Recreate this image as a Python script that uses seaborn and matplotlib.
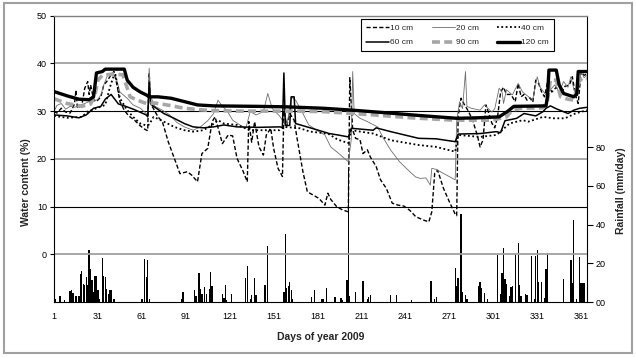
import matplotlib
matplotlib.use('Agg')
import matplotlib.pyplot as plt
import seaborn as sns
import pandas as pd
from matplotlib.patches import Rectangle

sns.set_theme(style='white')
plt.rcParams['font.family'] = ['Liberation Sans', 'DejaVu Sans']

# water content (%) at key days
d10_day = [1, 3, 6, 9, 12, 15, 16, 17, 20, 22, 24, 25, 26, 28, 30, 33, 35, 37, 40, 42, 44, 46, 49, 52, 56, 60, 63, 65,
           66, 67, 69, 72, 75, 79, 84, 87, 92, 95, 99, 102, 106, 109, 111, 116, 120, 123, 126, 130, 133, 134, 136, 138,
           141, 144, 146, 149, 151, 154, 157, 158, 160, 162, 165, 167, 169, 171, 174, 178, 182, 186, 188, 190, 194, 198,
           202, 203, 205, 207, 210, 212, 215, 217, 221, 224, 228, 232, 236, 240, 244, 248, 253, 257, 259, 261, 263, 267,
           271, 275, 276, 277, 279, 281, 284, 287, 290, 292, 294, 296, 298, 300, 302, 304, 306, 308, 310, 313, 316, 318,
           320, 322, 324, 326, 328, 330, 332, 334, 336, 338, 341, 344, 347, 350, 353, 355, 357, 359, 361, 363, 365]
d10_val = [29.9, 29.6, 30.6, 29.8, 29.6, 31.5, 34.4, 30.6, 31.2, 34.8, 36.2, 33.5, 35.5, 32.5, 32.0, 33.0, 35.5, 36.2,
           37.6, 38.3, 35.5, 32.0, 30.2, 29.0, 28.1, 26.9, 26.2, 25.9,
           38.0, 31.5, 30.5, 28.8, 27.8, 23.6, 19.4, 16.9, 17.3, 16.6, 15.2, 21.1, 22.2, 27.8, 28.8, 23.2, 25.0, 24.8,
           20.1, 17.5, 15.2, 27.8, 23.5, 27.8,
           22.5, 20.8, 25.0, 26.4, 22.2, 18.0, 16.3, 30.0, 27.0, 29.5, 28.1, 24.3, 20.8, 17.3, 13.1, 12.4, 11.7, 10.3,
           12.8, 11.5, 10.0, 9.3,
           8.9, 37.0, 26.0, 24.3, 24.0, 21.1, 21.9, 20.4, 18.4, 15.6, 13.8, 10.7, 10.3, 10.1, 9.2, 7.9, 7.2, 6.8, 8.9,
           17.0, 17.6, 13.8,
           11.0, 8.4, 8.1, 29.0, 32.7, 31.5, 30.0, 28.0, 25.0, 22.5, 24.0, 31.3, 29.5, 27.5, 26.5, 29.0, 34.0, 35.0,
           33.5, 33.5, 32.0, 35.8,
           33.0, 33.5, 32.3, 32.8, 31.9, 36.5, 35.8, 34.0, 33.0, 36.0, 34.0, 35.0, 33.5, 35.2, 35.5, 37.2, 33.5, 31.6,
           38.3, 37.5, 37.8]

d20_day = [1, 3, 6, 9, 12, 15, 19, 22, 25, 28, 31, 33, 35, 38, 43, 46, 51, 55, 60, 64, 65, 66, 67, 70, 75, 80, 85, 90,
           96, 101, 106, 110, 113, 116, 119, 123, 128, 132, 135, 139, 144, 147, 150, 155, 160, 163, 166, 171, 175, 182,
           186, 190, 194, 202, 204, 205, 206, 210, 215, 222, 226, 231, 237, 244, 248, 251, 255, 258, 259, 262, 269, 275,
           276, 278, 280, 282, 283, 286, 292, 295, 300, 302, 305, 307, 308, 310, 314, 318, 321, 326, 328, 331, 333, 337,
           340, 343, 346, 349, 352, 354, 357, 359, 361, 363, 365]
d20_val = [29.9, 31.2, 31.6, 30.4, 31.0, 30.8, 31.3, 31.6, 32.0, 32.0, 32.5, 33.4, 35.5, 37.9, 37.5, 34.0, 32.7, 31.3,
           30.6, 29.5, 29.0, 39.0, 33.0, 31.0, 30.2, 29.2, 27.6, 26.7,
           26.0, 26.7, 28.0, 29.5, 32.3, 31.0, 30.2, 28.1, 27.1, 26.4, 29.9, 29.2, 29.9, 33.7, 30.6, 29.0, 26.7, 33.0,
           32.3, 29.5, 27.1, 25.7,
           25.0, 22.5, 21.5, 19.4, 24.0, 38.3, 29.5, 28.5, 27.8, 26.7, 24.3, 21.8, 19.4, 17.3, 16.2, 15.9, 16.0, 14.5,
           18.0, 17.8, 16.6, 15.6,
           28.0, 32.0, 30.5, 38.3, 31.0, 30.6, 30.2, 31.3, 29.8, 30.5, 34.8, 34.0, 31.6, 34.5, 33.4, 35.8, 34.0, 32.8,
           32.5, 37.2, 35.0, 33.4,
           34.5, 35.5, 34.0, 36.2, 35.0, 37.2, 33.4, 34.0, 38.3, 37.0, 37.5]

d40_day = [1, 10, 20, 24, 30, 36, 39, 42, 43, 46, 51, 55, 60, 64, 66, 69, 76, 83, 90, 96, 103, 109, 113, 117, 126, 135,
           146, 155, 158, 169, 176, 188, 195, 202, 204, 219, 231, 250, 262, 275, 277, 292, 303, 306, 312, 321, 325, 335,
           342, 350, 357, 365]
d40_val = [29.0, 28.6, 28.8, 29.9, 30.6, 31.3, 34.8, 37.6, 37.6, 32.7, 30.2, 28.8, 27.4, 27.0, 27.2, 28.8, 27.8, 26.7,
           26.0, 25.7, 26.0, 27.1, 28.1, 27.4, 27.1, 26.0,
           26.0, 26.0, 26.7, 26.4, 25.7, 25.3, 24.0, 23.3, 26.0, 25.3, 23.9, 22.9, 22.5, 21.5, 25.0, 24.6, 25.0, 25.7,
           27.4, 28.1, 27.8, 28.8,
           28.5, 28.5, 29.5, 30.2]

d60_day = [1, 10, 18, 23, 28, 33, 36, 40, 45, 50, 56, 64, 65, 66, 67, 69, 76, 83, 90, 96, 103, 110, 117, 126, 140, 155,
           157, 158, 159, 162, 163, 165, 166, 176, 189, 195, 202, 204, 219, 221, 231, 250, 262, 275, 277, 292, 303, 306,
           309, 314, 317, 322, 330, 335, 337, 340, 344, 348, 352, 356, 360, 365]
d60_val = [29.2, 29.0, 28.6, 29.2, 30.6, 31.0, 32.5, 33.5, 31.5, 31.0, 30.3, 29.2, 28.8, 36.0, 31.5, 31.0, 29.5, 28.5,
           27.4, 26.7, 26.5, 26.7, 27.1, 26.7, 26.6, 26.7,
           26.6, 38.0, 27.0, 27.0, 33.0, 33.0, 27.4, 26.5, 25.3, 25.0, 24.6, 26.4, 26.0, 26.5, 25.7, 24.3, 24.2, 23.6,
           25.2, 25.3, 25.7, 25.5,
           28.0, 28.3, 28.5, 29.5, 29.0, 29.9, 30.6, 31.1, 30.5, 30.0, 29.5, 30.2, 30.6, 30.8]

d90_day = [1, 10, 20, 26, 29, 31, 34, 42, 48, 53, 58, 64, 70, 80, 90, 100, 110, 130, 150, 170, 185, 200, 220, 245, 275,
           300, 310, 314, 320, 335, 338, 340, 344, 347, 352, 356, 359, 362, 365]
d90_val = [32.6, 31.6, 31.0, 31.5, 33.5, 36.5, 37.5, 37.8, 37.6, 33.0, 32.3, 31.6, 31.7, 31.2, 30.6, 30.3, 30.1, 30.0,
           30.0, 30.0, 29.9, 29.6, 29.2, 28.6, 28.1,
           28.1, 28.8, 30.2, 30.6, 30.7, 32.3, 36.5, 36.5, 33.0, 32.5, 32.3, 36.0, 37.0, 36.8]

d120_day = [1, 10, 18, 25, 28, 30, 34, 36, 49, 51, 55, 60, 64, 66, 72, 81, 90, 99, 110, 140, 160, 185, 205, 230, 250,
            276, 290, 305, 311, 315, 337, 338, 339, 344, 346, 349, 356, 358, 359, 365]
d120_val = [34.1, 33.2, 32.5, 32.4, 33.0, 38.0, 38.3, 38.8, 38.8, 36.5, 35.0, 34.0, 33.4, 33.0, 33.0, 32.7, 32.0, 31.3,
            31.1, 31.0, 30.9, 30.6, 30.2, 29.6, 29.1,
            28.5, 28.6, 28.8, 30.0, 31.0, 31.1, 33.0, 38.6, 38.6, 35.5, 33.7, 33.0, 33.5, 38.3, 38.3]

# daily rainfall (mm/day)
rain_day = [1, 2, 5, 8, 12, 13, 14, 16, 18, 19, 20, 21, 22, 23, 24, 25, 26, 27, 28, 29, 30, 31, 32, 34, 35, 36, 37, 38,
            39, 40, 42, 61, 63, 64, 65, 66, 88, 89, 97, 98, 100, 101, 102, 104, 105, 107, 108, 109, 116, 117, 118, 119,
            122, 132, 133, 135, 136, 138, 139, 145, 147, 158, 159, 160, 161, 162, 163, 164, 177, 179, 184, 185, 187, 193,
            197, 198, 201, 202, 203, 207, 212, 215, 216, 217, 231, 235, 245, 258, 259, 261, 262, 275, 276, 277, 279, 280,
            282, 283, 291, 292, 293, 295, 297, 304, 306, 307, 308, 309, 310, 312, 313, 314, 316, 318, 319, 320, 323, 324,
            327, 329, 330, 331, 332, 334, 336, 337, 338, 349, 354, 355, 356, 358, 360, 361, 362, 363]
rain_mm = [8.6, 1.7, 3.0, 1.2, 5.7, 6.0, 4.8, 3.0, 3.0, 14.6, 15.8, 9.5, 8.6, 12.9, 8.6, 27.0, 17.2, 11.2, 5.2, 13.3,
           13.3, 6.4, 1.7, 22.9, 13.3, 12.9, 6.9, 4.3,
           6.4, 6.4, 1.7, 1.7, 22.4, 12.9, 21.9, 1.7, 1.7, 5.2, 6.4, 3.0, 15.0, 6.9, 4.3, 7.8, 4.3, 6.9, 15.3, 8.1, 4.3,
           2.2, 8.6, 1.2,
           4.0, 12.4, 18.4, 1.7, 3.4, 12.6, 3.4, 8.6, 28.8, 5.0, 35.3, 7.2, 8.1, 10.3, 6.0, 1.7, 2.6, 6.0, 1.4, 1.4,
           7.1, 2.6,
           1.9, 1.2, 11.2, 68.0, 3.1, 5.3, 10.9, 1.4, 2.6, 3.4, 3.4, 3.4, 0.8, 10.9, 10.9, 1.4, 2.6, 17.7, 8.3, 12.2,
           45.3, 5.3,
           3.6, 1.7, 8.3, 10.5, 7.1, 4.8, 1.4, 24.3, 4.0, 15.2, 27.7, 11.7, 9.1, 3.1, 7.8, 8.3, 24.6, 30.7, 8.8, 3.1,
           4.0, 3.4,
           23.8, 1.4, 23.8, 26.7, 10.3, 10.3, 2.2, 16.9, 25.3, 12.1, 21.5, 9.6, 42.2, 1.4, 23.3, 10.0, 10.0, 10.0]

depths = ['10 cm', '20 cm', '40 cm', '60 cm', '90 cm', '120 cm']
days = [d10_day, d20_day, d40_day, d60_day, d90_day, d120_day]
vals = [d10_val, d20_val, d40_val, d60_val, d90_val, d120_val]
styles = {
    '10 cm': dict(color='black', lw=1.0, dashes=(3, 1.6)),
    '20 cm': dict(color='#6e6e6e', lw=0.6, dashes=None),
    '40 cm': dict(color='black', lw=1.3, dashes=(1, 1.4)),
    '60 cm': dict(color='black', lw=1.1, dashes=None),
    '90 cm': dict(color='#a6a6a6', lw=2.6, dashes=(2.2, 1.2)),
    '120 cm': dict(color='black', lw=2.4, dashes=None),
}

fig = plt.figure(figsize=(6.36, 3.58), dpi=100)
fig.add_artist(Rectangle((4 / 636, 5 / 358), 628 / 636, 350 / 358, transform=fig.transFigure,
                         fill=False, ec='#a0a0a0', lw=1.5))
ax = fig.add_axes([54 / 636, 56 / 358, 533 / 636, 286.3 / 358])
ax2 = ax.twinx()

# rainfall on the right axis
ax2.bar(rain_day, rain_mm, width=0.9, color='black', linewidth=0)
ax2.set_ylim(0, 148)
ax2.set_yticks([0, 20, 40, 60, 80])
ax2.set_yticklabels(['00', '20', '40', '60', '80'])
ax2.tick_params(axis='y', direction='out', length=4, width=0.8, labelsize=6.5, pad=2, colors='black')
ax2.set_ylabel('Rainfall (mm/day)', fontsize=7.5, fontweight='bold')
ax2.yaxis.set_label_coords(1.054, 0.388)
for s in ['left', 'top', 'bottom']:
    ax2.spines[s].set_visible(False)
ax2.spines['right'].set_color('black')
ax2.spines['right'].set_linewidth(0.8)

# lines above bars
ax.set_zorder(ax2.get_zorder() + 1)
ax.patch.set_visible(False)

for y, c, w in [(0, '#a0a0a0', 1.3), (10, 'black', 0.8), (20, '#a0a0a0', 1.3), (30, 'black', 0.8),
                (40, '#a0a0a0', 1.3)]:
    ax.axhline(y, color=c, lw=w, zorder=0.5)

for name, dd, vv in zip(depths, days, vals):
    st = styles[name]
    df = pd.DataFrame({'day': dd, 'wc': vv})
    sns.lineplot(data=df, x='day', y='wc', ax=ax, color=st['color'], lw=st['lw'], label=name)
    if st['dashes'] is not None:
        ax.lines[-1].set_dashes(st['dashes'])

ax.set_xlim(1, 365)
ax.set_ylim(-10, 50)
ax.set_xticks(list(range(1, 362, 30)))
ax.set_yticks([0, 10, 20, 30, 40, 50])
ax.tick_params(axis='both', direction='out', length=3, width=0.8, labelsize=6.5, pad=2, colors='black')
ax.tick_params(axis='x', pad=4)
ax.set_xlabel('Days of year 2009', fontsize=7.5, fontweight='bold')
ax.xaxis.set_label_coords(0.5, -0.105)
ax.set_ylabel('Water content (%)', fontsize=7.5, fontweight='bold')
ax.yaxis.set_label_coords(-0.044, 0.419)
for s in ['left', 'bottom']:
    ax.spines[s].set_color('black')
    ax.spines[s].set_linewidth(0.8)
ax.spines['top'].set_color('#808080')
ax.spines['top'].set_linewidth(1.0)
ax.spines['right'].set_visible(False)

handles, labels = ax.get_legend_handles_labels()
order = [0, 3, 1, 4, 2, 5]
leg = ax.legend([handles[i] for i in order], [labels[i] for i in order], ncol=3, loc='upper left',
                bbox_to_anchor=(0.576, 0.988), fontsize=6, handlelength=2.8, handletextpad=0.1,
                columnspacing=2.2, borderpad=0.6, labelspacing=0.8, frameon=True, fancybox=False,
                edgecolor='black', framealpha=1, borderaxespad=0)
leg.get_frame().set_linewidth(0.8)

fig.savefig('out.png', dpi=100)
